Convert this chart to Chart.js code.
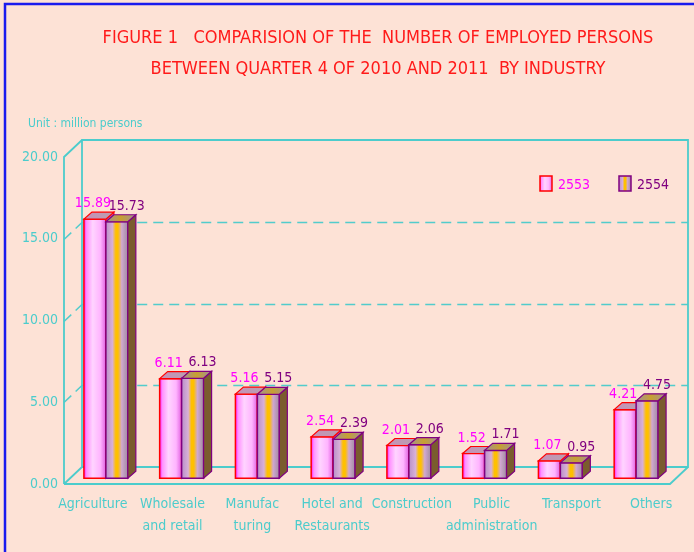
<!DOCTYPE html>
<html>
<head>
<meta charset="utf-8">
<script src="https://cdn.jsdelivr.net/npm/chart.js@4.4.1/dist/chart.umd.min.js"></script>
<style>
  html, body { margin: 0; padding: 0; background: #fde2d6; overflow: hidden; }
</style>
</head>
<body>
<canvas id="employedChart" width="694" height="552"></canvas>
<script>
// ข้อมูล (ล้านคน)
const industries = ['Agriculture', ['Wholesale', 'and retail'], ['Manufac', 'turing'], ['Hotel and', 'Restaurants'],
  'Construction', ['Public', 'administration'], 'Transport', 'Others'];
const persons2553 = [15.89, 6.11, 5.16, 2.54, 2.01, 1.52, 1.07, 4.21];
const persons2554 = [15.73, 6.13, 5.15, 2.39, 2.06, 1.71, 0.95, 4.75];
const seriesNames = ['2553', '2554'];
const yTicks = [0, 5, 10, 15, 20];
const titleLines = ['FIGURE 1   COMPARISION OF THE  NUMBER OF EMPLOYED PERSONS',
  'BETWEEN QUARTER 4 OF 2010 AND 2011  BY INDUSTRY'];
const unitText = 'Unit : million persons';

const FONT = "'DejaVu Sans Condensed', 'DejaVu Sans', sans-serif";
const TEAL = '#4ccccc';
const WALL_DX = 18, WALL_DY = 17;
const BAR_DX = 8, BAR_DY = 7;

const faceStyles = [
  { front: [[0, '#ff10ff'], [0.12, '#ff90ff'], [0.4, '#ffd4ff'], [0.75, '#ffb4ff'], [1, '#e060e0']],
    top: [[0, '#c890b8'], [1, '#b8a0b0']], side: '#c050a8', edge: '#ff0000', label: '#ff00ff', labelDx: -2 },
  { front: [[0, '#b890c8'], [0.3, '#d8b0d8'], [0.45, '#ffc000'], [0.55, '#ffc000'], [0.72, '#d0a8d0'], [1, '#a08ca0']],
    top: [[0, '#a09098'], [0.5, '#c8a030'], [1, '#a09098']], side: '#7a5c2e', edge: '#800080', label: '#800080', labelDx: 10 }
];

function grad(ctx, x0, x1, stops) {
  const g = ctx.createLinearGradient(x0, 0, x1, 0);
  stops.forEach(([o, c]) => g.addColorStop(o, c));
  return g;
}

function poly(ctx, pts, fill, stroke, lw) {
  ctx.beginPath();
  ctx.moveTo(pts[0][0], pts[0][1]);
  for (let i = 1; i < pts.length; i++) ctx.lineTo(pts[i][0], pts[i][1]);
  ctx.closePath();
  if (fill) { ctx.fillStyle = fill; ctx.fill(); }
  if (stroke) { ctx.strokeStyle = stroke; ctx.lineWidth = lw || 1; ctx.stroke(); }
}

const frame3d = {
  id: 'frame3d',
  beforeDraw(chart) {
    const ctx = chart.ctx;
    ctx.save();
    ctx.fillStyle = '#fde2d6';
    ctx.fillRect(0, 0, chart.width, chart.height);
    // рамка
    ctx.strokeStyle = '#1a1aee';
    ctx.lineWidth = 2.5;
    ctx.beginPath();
    ctx.moveTo(5, chart.height + 5);
    ctx.lineTo(5, 4);
    ctx.lineTo(chart.width + 5, 4);
    ctx.stroke();
    // заголовок
    ctx.fillStyle = '#ff1a1a';
    ctx.font = '18px ' + FONT;
    ctx.textAlign = 'center';
    ctx.textBaseline = 'alphabetic';
    titleLines.forEach((t, i) => ctx.fillText(t, 378, 43 + i * 31));
    ctx.fillStyle = TEAL;
    ctx.font = '12px ' + FONT;
    ctx.textAlign = 'left';
    ctx.fillText(unitText, 28, 127);
    ctx.restore();
  },
  beforeDatasetsDraw(chart) {
    const ctx = chart.ctx;
    const area = chart.chartArea;
    const ys = chart.scales.y;
    const fl = area.left - 4, fr = area.right - 4;
    const top = ys.getPixelForValue(yTicks[yTicks.length - 1]);
    const bot = ys.getPixelForValue(0);
    ctx.save();
    // grid on back wall + left wall
    ctx.strokeStyle = '#52cccc';
    ctx.lineWidth = 1.5;
    ctx.setLineDash([10, 6]);
    yTicks.slice(1, -1).forEach(v => {
      const y = Math.round(ys.getPixelForValue(v)) + 0.5;
      ctx.beginPath();
      ctx.moveTo(fl, y);
      ctx.lineTo(fl + WALL_DX, y - WALL_DY);
      ctx.lineTo(fr + WALL_DX, y - WALL_DY);
      ctx.stroke();
    });
    ctx.setLineDash([]);
    ctx.lineWidth = 1.8;
    ctx.strokeStyle = TEAL;
    ctx.beginPath();
    // back wall
    ctx.moveTo(fl + WALL_DX, bot - WALL_DY);
    ctx.lineTo(fl + WALL_DX, top - WALL_DY);
    ctx.lineTo(fr + WALL_DX, top - WALL_DY);
    ctx.lineTo(fr + WALL_DX, bot - WALL_DY);
    ctx.lineTo(fl + WALL_DX, bot - WALL_DY);
    // left wall
    ctx.moveTo(fl, bot);
    ctx.lineTo(fl, top);
    ctx.lineTo(fl + WALL_DX, top - WALL_DY);
    ctx.moveTo(fl, bot);
    ctx.lineTo(fl + WALL_DX, bot - WALL_DY);
    // floor
    ctx.moveTo(fl, bot);
    ctx.lineTo(fr, bot);
    ctx.lineTo(fr + WALL_DX, bot - WALL_DY);
    ctx.stroke();
    ctx.restore();
  },
  afterDatasetsDraw(chart) {
    // 3D faces, drawn left series first so the right one covers its side
    const ctx = chart.ctx;
    ctx.save();
    chart.data.datasets.forEach((ds, di) => {
      const st = faceStyles[di];
      chart.getDatasetMeta(di).data.forEach(el => {
        const l = el.x - el.width / 2, r = el.x + el.width / 2;
        const t = el.y, b = el.base;
        poly(ctx, [[l, t], [r, t], [r, b], [l, b]], grad(ctx, l, r, st.front), st.edge, 1.5);
        poly(ctx, [[r, t], [r + BAR_DX, t - BAR_DY], [r + BAR_DX, b - BAR_DY], [r, b]], st.side, st.edge, 1.2);
        poly(ctx, [[l, t], [r, t], [r + BAR_DX, t - BAR_DY], [l + BAR_DX, t - BAR_DY]],
          grad(ctx, l, r + BAR_DX, st.top), st.edge, 1.2);
      });
    });
    ctx.restore();
  },
  afterDraw(chart) {
    const ctx = chart.ctx;
    const area = chart.chartArea;
    const xs = chart.scales.x;
    ctx.save();
    // подписи значений
    ctx.font = '14px ' + FONT;
    ctx.textAlign = 'center';
    ctx.textBaseline = 'alphabetic';
    chart.data.datasets.forEach((ds, di) => {
      const st = faceStyles[di];
      ctx.fillStyle = st.label;
      chart.getDatasetMeta(di).data.forEach((el, i) => {
        ctx.fillText(ds.data[i].toFixed(2), el.x + st.labelDx, el.y - 12);
      });
    });
    // легенда
    chart.data.datasets.forEach((ds, di) => {
      const st = faceStyles[di];
      const bx = area.right - 134 + di * 79, by = area.top + 19;
      poly(ctx, [[bx, by], [bx + 12, by], [bx + 12, by + 15], [bx, by + 15]], grad(ctx, bx, bx + 12, st.front), st.edge, 1.5);
      ctx.fillStyle = st.label;
      ctx.textAlign = 'left';
      ctx.fillText(ds.label, bx + 18, by + 13);
    });
    // подписи категорий
    ctx.fillStyle = TEAL;
    ctx.font = '14px ' + FONT;
    ctx.textAlign = 'center';
    const mid = (area.left + area.right) / 2;
    industries.forEach((lab, i) => {
      const px = xs.getPixelForValue(i);
      const cx = mid + (px - mid) * 1.053 + 1;
      const lines = Array.isArray(lab) ? lab : [lab];
      lines.forEach((s, k) => ctx.fillText(s, cx, area.bottom + 24 + k * 22));
    });
    ctx.restore();
  }
};

new Chart(document.getElementById('employedChart'), {
  type: 'bar',
  data: {
    labels: industries,
    datasets: [{
      label: seriesNames[0],
      data: persons2553,
      yAxisID: 'yb',
      backgroundColor: '#ffc8ff',
      borderColor: '#ff0000',
      borderWidth: 1,
      categoryPercentage: 0.58,
      barPercentage: 1
    }, {
      label: seriesNames[1],
      data: persons2554,
      yAxisID: 'yb',
      backgroundColor: '#d8b0d8',
      borderColor: '#800080',
      borderWidth: 1,
      categoryPercentage: 0.58,
      barPercentage: 1
    }]
  },
  options: {
    responsive: false,
    animation: false,
    layout: { padding: { top: 157, right: 20, bottom: 0, left: 0 } },
    plugins: {
      legend: { display: false },
      title: { display: false },
      tooltip: { enabled: false }
    },
    scales: {
      x: {
        grid: { display: false },
        border: { display: false },
        ticks: { display: false },
        afterFit: s => { s.height = 68; }
      },
      y: {
        position: 'left',
        min: yTicks[0],
        max: yTicks[yTicks.length - 1],
        grid: { display: false, drawTicks: false },
        border: { display: false },
        ticks: {
          stepSize: 5,
          padding: 10,
          color: TEAL,
          font: { family: FONT, size: 14 },
          callback: v => Number(v).toFixed(2)
        },
        afterFit: s => { s.width = 68; }
      },
      yb: {
        display: false,
        min: -0.35,
        max: 19.7
      }
    }
  },
  plugins: [frame3d]
});
</script>
</body>
</html>
